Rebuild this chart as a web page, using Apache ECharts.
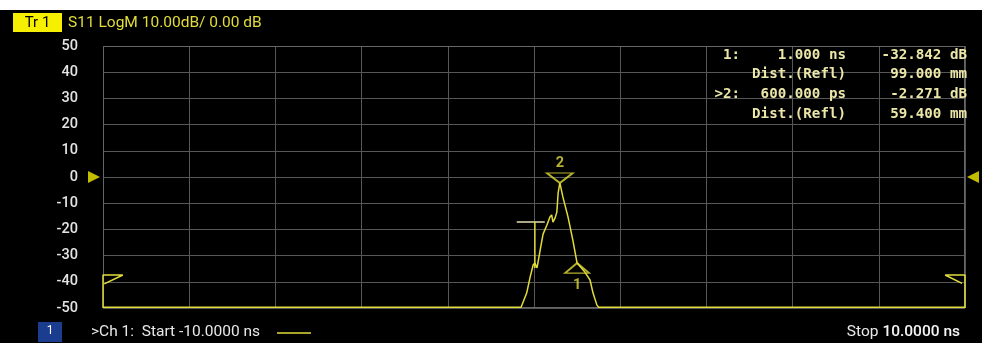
<!DOCTYPE html>
<html>
<head>
<meta charset="utf-8">
<script src="https://cdn.jsdelivr.net/npm/echarts@6/dist/echarts.min.js"></script>
<style>
html,body{margin:0;padding:0;background:#fff;}
#c{width:982px;height:343px;}
</style>
</head>
<body>
<div id="c"></div>
<script>
// ---- data ----
const xTickNs = [-10, -8, -6, -4, -2, 0, 2, 4, 6, 8, 10];
const yTicksDb = [50, 40, 30, 20, 10, 0, -10, -20, -30, -40, -50];
const timeNs = [-10, -0.3, -0.17, -0.09, -0.02, 0.02, 0.07, 0.14, 0.21, 0.3, 0.37, 0.41, 0.44, 0.49, 0.53, 0.56, 0.6, 0.67, 0.79, 0.9, 1.0, 1.18, 1.3, 1.37, 1.46, 1.5, 10];
const s11dB = [-49.7, -49.7, -44.3, -38.2, -33.6, -32.8, -34.7, -28.2, -21.8, -18.3, -15.3, -14.5, -17.2, -15.6, -13.4, -6.1, -2.27, -7.6, -15.3, -24.0, -32.84, -36.3, -39.3, -44.3, -48.9, -49.7, -49.7];
const marker1 = [1.0, -32.842];
const marker2 = [0.6, -2.271];
const gateStartFlag = [[-10, -50], [-10, -37.4], [-9.54, -37.4], [-9.97, -40.8]];
const gateStopFlag = [[10, -50], [10, -37.4], [9.54, -37.4], [9.93, -40.6]];
const peakLevelLine = [[-0.4, -17.2], [0.25, -17.2]];
const peakStemLine = [[0.02, -17.2], [0.02, -34.7]];
const refLevel = 0;
const markerTable = [
  ['1:', '1.000 ns', '-32.842 dB'],
  ['', 'Dist.(Refl)', '99.000 mm'],
  ['>2:', '600.000 ps', '-2.271 dB'],
  ['', 'Dist.(Refl)', '59.400 mm']
];
const headerText = 'S11 LogM 10.00dB/ 0.00 dB';
const traceLabel = 'Tr 1';
const startText = '>Ch 1:  Start -10.0000 ns';
const stopWord = 'Stop ';
const stopValue = '10.0000 ns';

const YEL = '#e2dc3a';
const chart = echarts.init(document.getElementById('c'), null, {renderer: 'canvas'});

const tableGraphics = [];
const rowY = [55, 74, 94, 114];
markerTable.forEach((r, i) => {
  const style = {font: 'bold 14.2px "DejaVu Sans Mono", monospace', fill: '#ebe7a8', textVerticalAlign: 'middle'};
  tableGraphics.push({type: 'text', x: 740, y: rowY[i], style: Object.assign({text: r[0], textAlign: 'right'}, style), z: 10});
  tableGraphics.push({type: 'text', x: 846, y: rowY[i], style: Object.assign({text: r[1], textAlign: 'right'}, style), z: 10});
  tableGraphics.push({type: 'text', x: 967, y: rowY[i], style: Object.assign({text: r[2], textAlign: 'right'}, style), z: 10});
});

const option = {
  backgroundColor: '#000',
  animation: false,
  grid: {left: 103, right: 17, top: 46, bottom: 35, show: false},
  xAxis: {
    type: 'value', min: xTickNs[0], max: xTickNs[xTickNs.length - 1], interval: 2,
    axisLine: {show: false}, axisTick: {show: false}, axisLabel: {show: false},
    splitLine: {show: true, lineStyle: {color: '#575757', width: 1}}
  },
  yAxis: {
    type: 'value', min: yTicksDb[yTicksDb.length - 1], max: yTicksDb[0], interval: 10,
    axisLine: {show: false}, axisTick: {show: false},
    axisLabel: {color: '#e4e4e4', fontSize: 14.5, fontWeight: 500, fontFamily: 'Roboto, sans-serif', margin: 25},
    splitLine: {show: true, lineStyle: {color: '#575757', width: 1}}
  },
  graphic: [
    {type: 'rect', shape: {x: 0, y: 0, width: 982, height: 10}, style: {fill: '#fff'}, z: 20},
    {type: 'rect', shape: {x: 13, y: 13, width: 49, height: 19}, style: {fill: '#f6f000'}, z: 10},
    {type: 'text', x: 37.5, y: 23, style: {text: traceLabel, fill: '#000', font: '15px Roboto, sans-serif', textAlign: 'center', textVerticalAlign: 'middle'}, z: 11},
    {type: 'text', x: 68, y: 23, style: {text: headerText, fill: YEL, font: '15.5px Roboto, sans-serif', textVerticalAlign: 'middle'}, z: 10},
    {type: 'rect', shape: {x: 38, y: 322, width: 24, height: 20}, style: {fill: '#1b3d8f'}, z: 10},
    {type: 'text', x: 50, y: 331, style: {text: '1', fill: '#fff', font: '12px Roboto, sans-serif', textAlign: 'center', textVerticalAlign: 'middle'}, z: 11},
    {type: 'text', x: 91, y: 332, style: {text: startText, fill: '#e8e8e8', font: '15.5px Roboto, sans-serif', textVerticalAlign: 'middle'}, z: 10},
    {type: 'line', shape: {x1: 277, y1: 333, x2: 311, y2: 333}, style: {stroke: YEL, lineWidth: 1.5}, z: 10},
    {type: 'text', x: 960, y: 332, style: {
      text: '{a|' + stopWord + '}{b|' + stopValue + '}', textAlign: 'right', textVerticalAlign: 'middle',
      rich: {a: {fill: '#e8e8e8', font: '15.5px Roboto, sans-serif'}, b: {fill: '#f4f4f4', font: '500 15.5px Roboto, sans-serif'}}
    }, z: 10},
    {type: 'rect', shape: {x: 103.5, y: 46.5, width: 861, height: 261}, style: {fill: 'none', stroke: '#666', lineWidth: 1}, z: 1, silent: true}
  ].concat(tableGraphics),
  series: [
    {
      type: 'line', data: timeNs.map((t, i) => [t, s11dB[i]]), symbol: 'none',
      lineStyle: {color: YEL, width: 1.5}, z: 5, clip: false
    },
    {type: 'line', data: gateStartFlag, symbol: 'none', lineStyle: {color: YEL, width: 1.5}, z: 5, clip: false},
    {type: 'line', data: gateStopFlag, symbol: 'none', lineStyle: {color: YEL, width: 1.5}, z: 5, clip: false},
    {type: 'line', data: peakLevelLine, symbol: 'none', lineStyle: {color: '#e4e0b0', width: 1.5}, z: 5},
    {type: 'line', data: peakStemLine, symbol: 'none', lineStyle: {color: YEL, width: 1.5}, z: 5},
    {
      type: 'scatter', clip: false, z: 6,
      data: [{
        value: marker2, symbol: 'triangle', symbolRotate: 180, symbolSize: [26, 10], symbolOffset: [0, -5],
        label: {show: true, position: 'top', distance: 2, formatter: '2'}
      }, {
        value: marker1, symbol: 'triangle', symbolSize: [24, 10], symbolOffset: [0, 5],
        label: {show: true, position: 'bottom', distance: 4, formatter: '1'}
      }],
      itemStyle: {color: 'rgba(0,0,0,0)', borderColor: YEL, borderWidth: 1.8},
      label: {color: YEL, fontSize: 14.5, fontWeight: 'bold', fontFamily: 'Roboto, sans-serif'}
    },
    {
      type: 'scatter', clip: false, z: 6,
      data: [
        {value: [xTickNs[0], refLevel], symbolRotate: -90, symbolOffset: [-9, 0]},
        {value: [xTickNs[xTickNs.length - 1], refLevel], symbolRotate: 90, symbolOffset: [8, 0]}
      ],
      symbol: 'triangle', symbolSize: [12, 12],
      itemStyle: {color: '#f2ec00'}
    }
  ]
};
chart.setOption(option);
</script>
</body>
</html>
